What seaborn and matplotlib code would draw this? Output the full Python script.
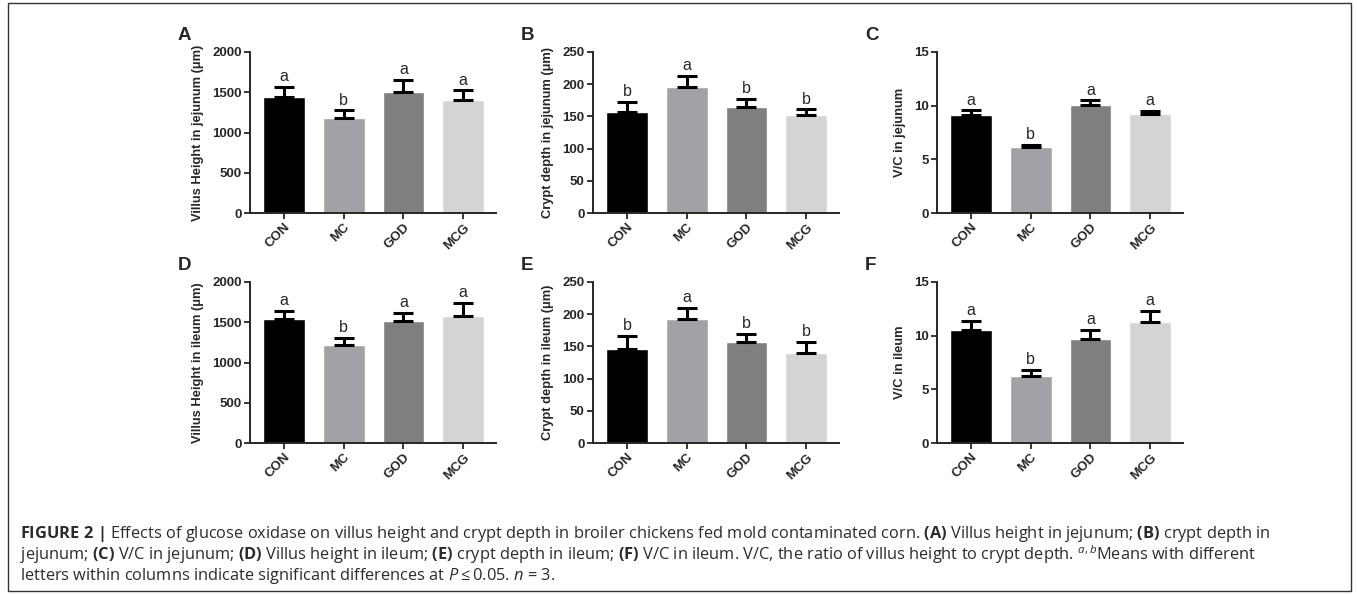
import numpy as np
import pandas as pd
import matplotlib
matplotlib.use("Agg")
import matplotlib.pyplot as plt
import seaborn as sns
from matplotlib.patches import Rectangle

groups = ["CON", "MC", "GOD", "MCG"]
colors = ["#000000", "#a2a2a6", "#7f7f7f", "#d4d4d4"]

vh_jej = [1437, 1180, 1499, 1408]
vh_jej_se = [128, 95, 153, 116]
cd_jej = [157, 196, 164, 152]
cd_jej_se = [15, 17, 13, 9]
vc_jej = [9.15, 6.12, 10.05, 9.19]
vc_jej_se = [0.41, 0.19, 0.44, 0.34]
vh_ile = [1536, 1217, 1515, 1582]
vh_ile_se = [108, 91, 100, 157]
cd_ile = [146, 193, 157, 140]
cd_ile_se = [20, 17, 12, 17]
vc_ile = [10.55, 6.28, 9.65, 11.3]
vc_ile_se = [0.83, 0.56, 0.87, 1.0]

letters_A = ["a", "b", "a", "a"]
letters_B = ["b", "a", "b", "b"]

ylabels = ["Villus Height in jejunum (\u03bcm)", "Crypt depth in jejunum (\u03bcm)", "V/C in jejunum",
           "Villus Height in ileum (\u03bcm)", "Crypt depth in ileum (\u03bcm)", "V/C in ileum"]
panel_ids = ["A", "B", "C", "D", "E", "F"]
yticks_vh = [0, 500, 1000, 1500, 2000]
yticks_cd = [0, 50, 100, 150, 200, 250]
yticks_vc = [0, 5, 10, 15]

sns.set_style("ticks")
plt.rcParams["font.family"] = ["Liberation Sans", "DejaVu Sans"]
plt.rcParams["mathtext.fontset"] = "custom"
plt.rcParams["mathtext.rm"] = "Open Sans"
plt.rcParams["mathtext.bf"] = "Open Sans:bold"
plt.rcParams["mathtext.it"] = "Open Sans:italic"

W, H = 1357, 594
fig = plt.figure(figsize=(W / 100, H / 100), dpi=100)

panels = [
    (vh_jej, vh_jej_se, letters_A, yticks_vh),
    (cd_jej, cd_jej_se, letters_B, yticks_cd),
    (vc_jej, vc_jej_se, letters_A, yticks_vc),
    (vh_ile, vh_ile_se, letters_A, yticks_vh),
    (cd_ile, cd_ile_se, letters_B, yticks_cd),
    (vc_ile, vc_ile_se, letters_A, yticks_vc),
]

lefts = [250, 593, 937]
tops = [52, 282]
pw, ph = 246, 161

for i, (vals, se, lets, yt) in enumerate(panels):
    r, c = divmod(i, 3)
    l = lefts[c]
    t = tops[r]
    ax = fig.add_axes([l / W, (H - t - ph) / H, pw / W, ph / H])
    df = pd.DataFrame({"group": groups, "value": vals})
    sns.barplot(data=df, x="group", y="value", hue="group", palette=colors,
                width=0.7, legend=False, ax=ax, errorbar=None, saturation=1)
    xs = np.arange(len(groups))
    ax.errorbar(xs, vals, yerr=[np.zeros(len(se)), se], fmt="none",
                ecolor="black", elinewidth=2.2, capsize=7, capthick=2.2, zorder=3)
    for x, v, s, lt in zip(xs, vals, se, lets):
        ax.annotate(lt, (x, v + s), xytext=(0, 2), textcoords="offset points",
                    ha="center", va="bottom", fontsize=11.5)
    ax.set_xlim(-0.57, 3.55)
    ax.set_ylim(yt[0], yt[-1])
    ax.set_yticks(yt)
    ax.set_yticklabels([str(v) for v in yt], fontsize=9.5, fontweight="bold")
    ax.set_xticks(xs)
    ax.set_xticklabels(groups, rotation=45, ha="right", rotation_mode="anchor",
                       fontsize=9.5, fontweight="bold")
    ax.set_xlabel("")
    ax.set_ylabel(ylabels[i], fontsize=9.3, fontweight="bold", labelpad=6)
    sns.despine(ax=ax)
    for sp in ["left", "bottom"]:
        ax.spines[sp].set_linewidth(1.4)
    ax.tick_params(axis="both", width=1.3, length=4, pad=2)
    fig.text((l - 72) / W, 1 - (t - 17) / H, panel_ids[i], fontsize=13.5,
             fontweight="bold", ha="left", va="center")

# caption frame
fig.patches.append(Rectangle((8 / W, 3 / H), (1351 - 8) / W, (591 - 3) / H,
                             transform=fig.transFigure, fill=False,
                             edgecolor="#333333", linewidth=1.0))

cap_lines = [
    r"$\mathbf{FIGURE\ 2\ |}$ Effects of glucose oxidase on villus height and crypt depth in broiler chickens fed mold contaminated corn. "
    r"$\mathbf{(A)}$ Villus height in jejunum; $\mathbf{(B)}$ crypt depth in",
    r"jejunum; $\mathbf{(C)}$ V/C in jejunum; $\mathbf{(D)}$ Villus height in ileum; $\mathbf{(E)}$ crypt depth in ileum; "
    r"$\mathbf{(F)}$ V/C in ileum. V/C, the ratio of villus height to crypt depth. $^{\mathit{a,b}}$Means with different",
    r"letters within columns indicate significant differences at $\mathit{P}\leq$0.05. $\mathit{n}$ = 3.",
]
for k, line in enumerate(cap_lines):
    fig.text(20 / W, 1 - (534 + 21 * k) / H, line, fontsize=11.8, color="#2b2b2b",
             family="Open Sans", ha="left", va="center")

fig.savefig("out.png", dpi=100)
